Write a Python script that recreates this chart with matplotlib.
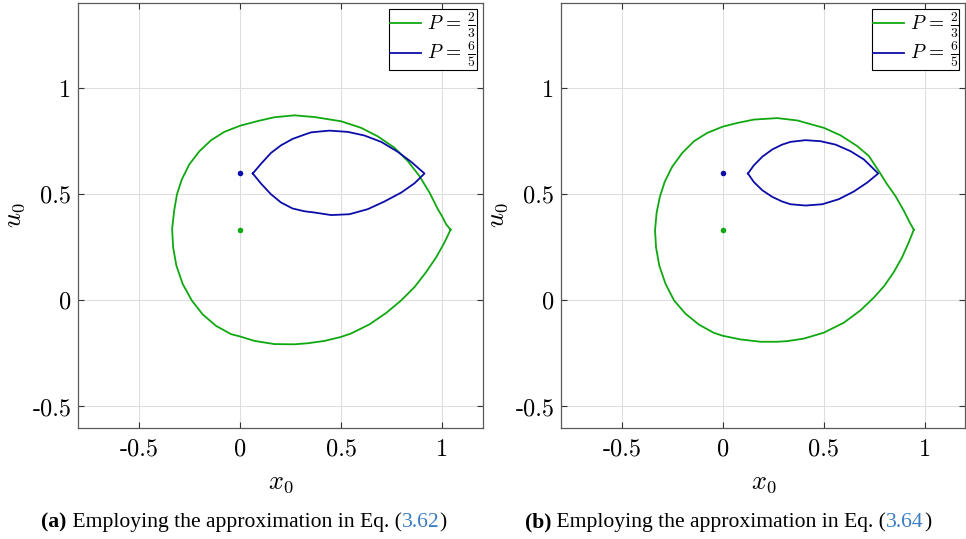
import matplotlib
matplotlib.use("Agg")
import matplotlib.pyplot as plt

plt.rcParams["mathtext.fontset"] = "cm"
plt.rcParams["axes.unicode_minus"] = False

GREEN = "#10a810"
BLUE = "#0c0ca8"

# ---- panel (a): approximation of Eq. (3.62) ----
a_green_x = [1.041, 1.019, 0.998, 0.978, 0.937, 0.887, 0.830, 0.764, 0.681, 0.599, 0.500, 0.368,
             0.269, 0.170, 0.087, 0.000, -0.078, -0.143, -0.201, -0.251, -0.288, -0.312, -0.326,
             -0.336, -0.331, -0.315, -0.284, -0.239, -0.185, -0.119, -0.045, 0.000, 0.071, 0.170,
             0.269, 0.335, 0.418, 0.500, 0.549, 0.640, 0.723, 0.797, 0.863, 0.920, 0.970, 1.011,
             1.041]
a_green_y = [0.333, 0.359, 0.398, 0.430, 0.508, 0.586, 0.656, 0.719, 0.773, 0.813, 0.844, 0.864,
             0.872, 0.863, 0.845, 0.823, 0.794, 0.755, 0.703, 0.641, 0.570, 0.500, 0.422,
             0.336, 0.250, 0.164, 0.078, 0.000, -0.066, -0.120, -0.159, -0.170, -0.191, -0.206,
             -0.207, -0.202, -0.191, -0.172, -0.156, -0.113, -0.059, 0.000, 0.063, 0.133, 0.203,
             0.273, 0.333]
a_blue_x = [0.063, 0.104, 0.153, 0.203, 0.260, 0.318, 0.352, 0.442, 0.533, 0.615, 0.698, 0.780,
            0.846, 0.912, 0.863, 0.797, 0.714, 0.632, 0.541, 0.451, 0.368, 0.318, 0.260, 0.203,
            0.153, 0.104, 0.063]
a_blue_y = [0.598, 0.644, 0.695, 0.731, 0.761, 0.781, 0.792, 0.800, 0.794, 0.777, 0.747, 0.700,
            0.653, 0.598, 0.552, 0.508, 0.466, 0.430, 0.406, 0.402, 0.414, 0.420, 0.433, 0.461,
            0.500, 0.550, 0.598]

# ---- panel (b): approximation of Eq. (3.64) ----
b_green_x = [0.945, 0.925, 0.896, 0.854, 0.813, 0.772, 0.723, 0.665, 0.582, 0.500, 0.368, 0.269,
             0.153, 0.071, 0.000, -0.078, -0.143, -0.201, -0.251, -0.288, -0.312, -0.328, -0.336,
             -0.331, -0.315, -0.284, -0.242, -0.185, -0.119, -0.045, 0.000, 0.087, 0.186, 0.269,
             0.319, 0.401, 0.500, 0.599, 0.681, 0.747, 0.797, 0.846, 0.887, 0.920, 0.945]
b_green_y = [0.333, 0.367, 0.422, 0.492, 0.547, 0.609, 0.680, 0.727, 0.778, 0.813, 0.848, 0.859,
             0.852, 0.836, 0.819, 0.789, 0.750, 0.695, 0.630, 0.559, 0.488, 0.414, 0.331,
             0.250, 0.164, 0.078, 0.000, -0.063, -0.114, -0.153, -0.167, -0.184, -0.195, -0.195,
             -0.192, -0.180, -0.152, -0.105, -0.047, 0.013, 0.066, 0.133, 0.203, 0.273, 0.333]
b_blue_x = [0.124, 0.153, 0.195, 0.244, 0.293, 0.335, 0.409, 0.484, 0.558, 0.632, 0.698, 0.769,
            0.714, 0.648, 0.574, 0.492, 0.409, 0.335, 0.293, 0.244, 0.195, 0.153, 0.124]
b_blue_y = [0.598, 0.636, 0.677, 0.711, 0.734, 0.747, 0.755, 0.750, 0.734, 0.703, 0.664, 0.598,
            0.555, 0.513, 0.477, 0.453, 0.447, 0.453, 0.466, 0.488, 0.519, 0.558, 0.598]

# equilibrium points (x0, u0) for P = 2/3 and P = 6/5
eq_green = (0.0, 1 / 3)
eq_blue = (0.0, 0.6)

labels = [r"$P\,=\,\frac{2}{3}$", r"$P\,=\,\frac{6}{5}$"]
xticks = [-0.5, 0, 0.5, 1]
yticks = [-0.5, 0, 0.5, 1]
tick_labels = ["-0.5", "0", "0.5", "1"]

W, H = 966, 539
fig = plt.figure(figsize=(W / 100, H / 100), dpi=100)
bottom = 1 - 427.7 / H
height = (427.7 - 3.3) / H
ax1 = fig.add_axes([78.3 / W, bottom, (482.7 - 78.3) / W, height])
ax2 = fig.add_axes([561.3 / W, bottom, (965.3 - 561.3) / W, height])

panels = [
    (ax1, a_green_x, a_green_y, a_blue_x, a_blue_y),
    (ax2, b_green_x, b_green_y, b_blue_x, b_blue_y),
]

for ax, gx, gy, bx, by in panels:
    ax.plot(gx, gy, color=GREEN, lw=1.3, label=labels[0])
    ax.plot(bx, by, color=BLUE, lw=1.3, label=labels[1])
    ax.plot(*eq_green, "o", color=GREEN, ms=4, mec="none")
    ax.plot(*eq_blue, "o", color=BLUE, ms=4, mec="none")
    ax.set_xlim(-0.8, 1.2)
    ax.set_ylim(-0.6, 1.4)
    ax.set_xticks(xticks)
    ax.set_yticks(yticks)
    ax.set_xticklabels(tick_labels, family="cmr10", fontsize=17.5)
    ax.set_yticklabels(tick_labels, family="cmr10", fontsize=17.5)
    ax.tick_params(direction="in", length=4, width=0.8, color="#333333",
                   top=True, right=True)
    ax.tick_params(axis="x", pad=8)
    ax.tick_params(axis="y", pad=5)
    ax.grid(True, color="#dedede", lw=0.8)
    ax.set_axisbelow(True)
    for s in ax.spines.values():
        s.set_color("#5a5a5a")
        s.set_linewidth(0.9)
    ax.set_xlabel(r"$x_0$", fontsize=19, labelpad=6)
    ax.set_ylabel(r"$u_0$", fontsize=19, labelpad=4)
    leg = ax.legend(loc="upper right", fontsize=14, fancybox=False, framealpha=1,
                    edgecolor="black", borderpad=0.05, labelspacing=0.0,
                    handlelength=1.6, handletextpad=0.3, borderaxespad=0.3)
    leg.get_frame().set_linewidth(0.8)


def caption(x_center, y, parts):
    """Draw a caption made of (text, weight, color) runs, centred at x_center."""
    fig.canvas.draw()
    r = fig.canvas.get_renderer()
    texts = []
    for s, w, c in parts:
        t = fig.text(0, y, s, fontsize=15.6, family="Liberation Serif", weight=w,
                     color=c, va="baseline", ha="left")
        texts.append(t)
    widths = [t.get_window_extent(r).width for t in texts]
    total = sum(widths)
    x = x_center * W - total / 2
    for t, w in zip(texts, widths):
        t.set_x(x / W)
        x += w


link = "#3b7dc4"
caption(244 / W, 1 - 527 / H, [("(a)", "bold", "black"),
                               (" Employing the approximation in Eq. (", "normal", "black"),
                               ("3.62", "normal", link), (")", "normal", "black")])
caption(728 / W, 1 - 527 / H, [("(b)", "bold", "black"),
                               (" Employing the approximation in Eq. (", "normal", "black"),
                               ("3.64", "normal", link), (")", "normal", "black")])

fig.savefig("out.png", dpi=100)
